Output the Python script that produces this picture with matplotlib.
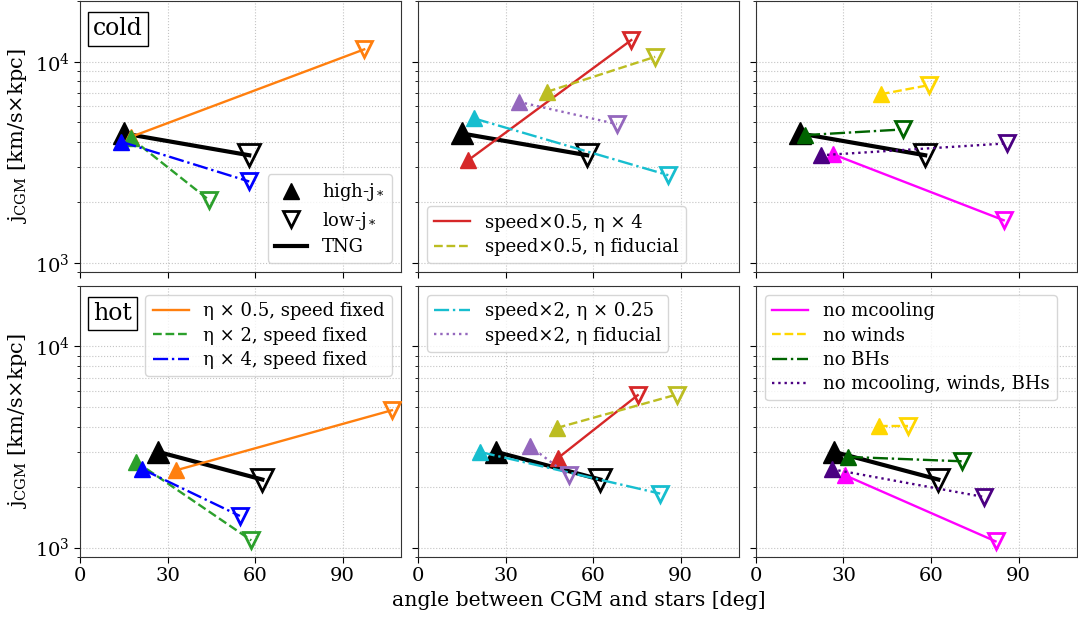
import matplotlib
matplotlib.use("Agg")
from matplotlib import pyplot as plt
from matplotlib.lines import Line2D

plt.rcParams['font.family'] = 'DejaVu Serif'
plt.rcParams['mathtext.fontset'] = 'dejavuserif'

# run order: TNG, eta x0.5, eta x2, eta x4, speed x0.5 eta x4, speed x0.5 eta fid,
# speed x2 eta x0.25, speed x2 eta fid, no mcooling, no winds, no BHs, no everything
run_labels = [
    'TNG',
    'η × 0.5, speed fixed',
    'η × 2, speed fixed',
    'η × 4, speed fixed',
    'speed×0.5, η × 4',
    'speed×0.5, η fiducial',
    'speed×2, η × 0.25',
    'speed×2, η fiducial',
    'no mcooling',
    'no winds',
    'no BHs',
    'no mcooling, winds, BHs',
]

# cold CGM: angle [deg] and j_CGM [km/s x kpc] of high-j* and low-j* galaxies
cold_ang_high = [15.1, 17.6, 17.6, 14.2, 17.2, 44.2, 19.2, 34.5, 26.4, 42.8, 16.8, 22.2]
cold_ang_low = [58.0, 97.4, 44.3, 58.0, 73.1, 81.3, 85.8, 68.2, 84.9, 59.2, 50.5, 86.0]
cold_j_high = [4400, 4240, 4160, 4000, 3240, 7090, 5230, 6320, 3470, 6900, 4320, 3430]
cold_j_low = [3430, 11530, 2050, 2540, 12820, 10590, 2730, 4900, 1630, 7650, 4610, 3930]

# hot CGM
hot_ang_high = [26.9, 33.0, 19.3, 21.4, 48.0, 47.6, 21.2, 38.3, 30.5, 42.2, 31.5, 26.1]
hot_ang_low = [62.5, 106.9, 58.7, 54.8, 75.3, 88.7, 83.0, 51.6, 82.1, 52.1, 70.5, 78.1]
hot_j_high = [2990, 2425, 2666, 2452, 2790, 3936, 2990, 3200, 2290, 4027, 2825, 2452]
hot_j_low = [2180, 4820, 1087, 1437, 5724, 5770, 1856, 2290, 1075, 4027, 2687, 1786]

run_colors = ['black', 'tab:orange', 'tab:green', 'blue', 'tab:red', 'tab:olive',
              'tab:cyan', 'tab:purple', 'magenta', 'gold', 'darkgreen', '#4b0082']
run_styles = ['-', '-', '--', '-.', '-', '--', '-.', ':', '-', '--', '-.', ':']

# which runs go in which column
column_runs = [[1, 2, 3], [4, 5, 6, 7], [8, 9, 10, 11]]

phases = ['cold', 'hot']
ang_high = [cold_ang_high, hot_ang_high]
ang_low = [cold_ang_low, hot_ang_low]
j_high = [cold_j_high, hot_j_high]
j_low = [cold_j_low, hot_j_low]

fig, axes = plt.subplots(2, 3, figsize=(10.78, 6.18), dpi=100, sharex=True, sharey=True)
fig.subplots_adjust(left=0.0742, right=0.999, top=0.998, bottom=0.099,
                    wspace=0.053, hspace=0.051)


def draw_run(ax, row, i, zorder):
    big = i == 0
    ms = 16 if big else 11
    lw = 3 if big else 1.7
    c = run_colors[i]
    x = [ang_high[row][i], ang_low[row][i]]
    y = [j_high[row][i], j_low[row][i]]
    ax.plot(x, y, ls=run_styles[i], color=c, lw=lw, zorder=zorder)
    ax.plot(x[0], y[0], marker='^', ls='none', ms=ms, color=c, zorder=zorder + 0.1)
    ax.plot(x[1], y[1], marker='v', ls='none', ms=ms, mfc='none', mec=c,
            mew=2, zorder=zorder + 0.1)


for row in range(2):
    for col in range(3):
        ax = axes[row, col]
        ax.set_yscale('log')
        draw_run(ax, row, 0, 2)
        for k, i in enumerate(column_runs[col]):
            draw_run(ax, row, i, 3 + k)
        ax.set_xlim(0, 110)
        ax.set_ylim(900, 20000)
        ax.set_xticks([0, 30, 60, 90])
        ax.grid(True, which='major', ls=':', color='#c4c4c4', lw=0.8)
        ax.grid(True, which='minor', axis='y', ls=':', color='#c4c4c4', lw=0.8)
        ax.tick_params(labelsize=14)
        ax.tick_params(which='major', length=4)
        ax.tick_params(which='minor', length=2.5)
        for sp in ax.spines.values():
            sp.set_color('#333333')
    axes[row, 0].text(0.04, 0.94, phases[row], transform=axes[row, 0].transAxes,
                      fontsize=17, va='top', ha='left',
                      bbox=dict(boxstyle='square,pad=0.22', fc='white', ec='black'))
    axes[row, 0].set_ylabel(r'j$_{\rm CGM}$ [km/s$\times$kpc]', fontsize=15)


def line_handles(idx):
    return [Line2D([], [], color=run_colors[i], ls=run_styles[i], lw=1.7) for i in idx]


leg_kw = dict(fontsize=13, framealpha=0.8, fancybox=True, labelspacing=0.35)

marker_handles = [
    Line2D([], [], marker='^', ls='none', ms=12, color='black'),
    Line2D([], [], marker='v', ls='none', ms=12, mfc='none', mec='black', mew=2),
    Line2D([], [], color='black', lw=3),
]
axes[0, 0].legend(marker_handles, ['high-j$_*$', 'low-j$_*$', 'TNG'],
                  loc='lower right', handlelength=1.8, **leg_kw)
axes[0, 1].legend(line_handles([4, 5]), [run_labels[i] for i in [4, 5]],
                  loc='lower left', **leg_kw)
axes[1, 0].legend(line_handles([1, 2, 3]), [run_labels[i] for i in [1, 2, 3]],
                  loc='upper right', **leg_kw)
axes[1, 1].legend(line_handles([6, 7]), [run_labels[i] for i in [6, 7]],
                  loc='upper left', **leg_kw)
axes[1, 2].legend(line_handles([8, 9, 10, 11]), [run_labels[i] for i in [8, 9, 10, 11]],
                  loc='upper left', **leg_kw)

axes[1, 1].set_xlabel('angle between CGM and stars [deg]', fontsize=14.7)

fig.savefig('out.png', dpi=100)
